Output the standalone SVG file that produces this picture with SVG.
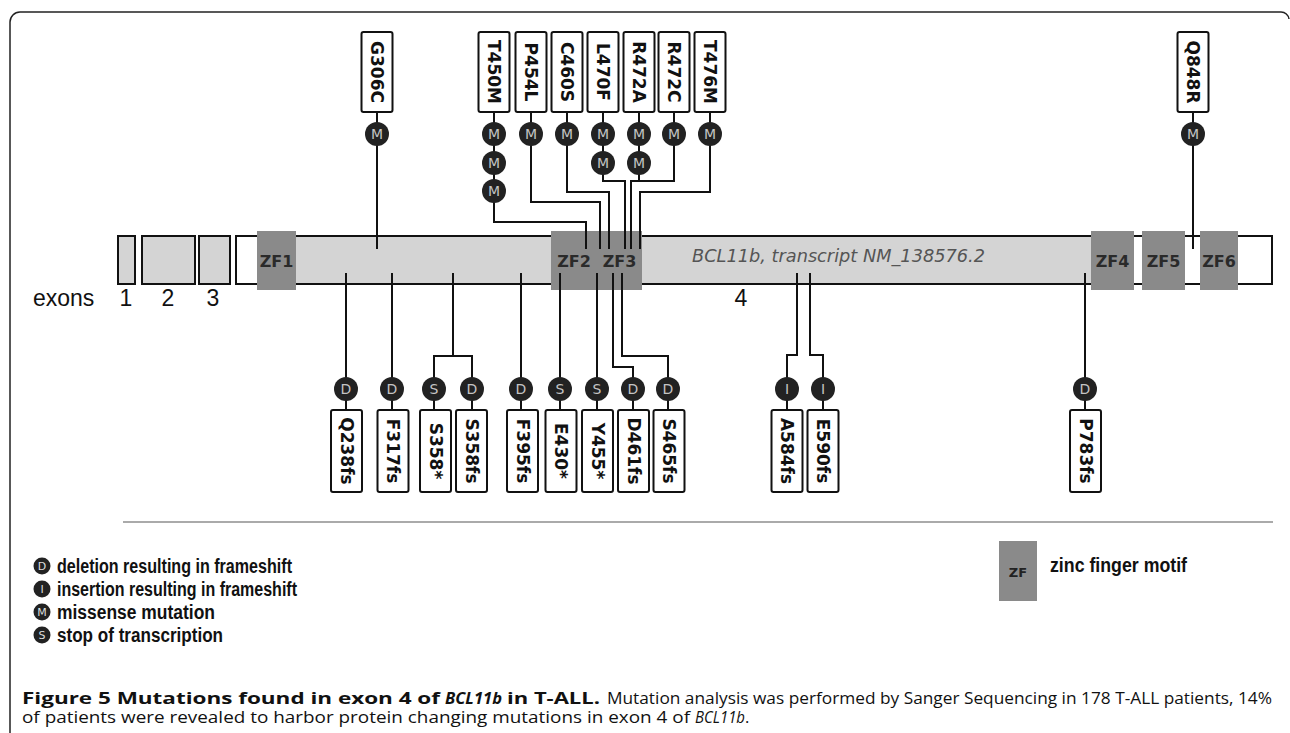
<svg xmlns="http://www.w3.org/2000/svg" width="1290" height="733" viewBox="0 0 1290 733">
<style>
.box{fill:#fff;stroke:#111;stroke-width:2}
.lbl{font-family:"DejaVu Sans",sans-serif;font-weight:bold;font-size:17px;fill:#111;text-anchor:middle;dominant-baseline:central}
.dot{fill:#222}
.dl{font-family:"DejaVu Sans",sans-serif;font-size:14px;fill:#c4c4c4;text-anchor:middle;dominant-baseline:central}
.con{fill:none;stroke:#111;stroke-width:2}
.ex{fill:#d4d4d4;stroke:#111;stroke-width:2}
.zf{fill:#8a8a8a}
.zft{font-family:"DejaVu Sans",sans-serif;font-weight:bold;font-size:16px;fill:#2a2a2a;text-anchor:middle;dominant-baseline:central}
.num{font-family:"Liberation Sans",Arial,sans-serif;font-size:23px;fill:#111}
.leg{font-family:"Liberation Sans",Arial,sans-serif;font-size:20px;font-weight:bold;fill:#111}
.ldot{fill:#222}
.ldl{font-family:"DejaVu Sans",sans-serif;font-size:11px;fill:#ddd;text-anchor:middle;dominant-baseline:central}
.cap{font-family:"Open Sans",sans-serif;font-size:16.5px;fill:#111}
.b{font-weight:bold}
.i{font-style:italic}
</style>
<path d="M10,733 V22 A10,10 0 0 1 20,12 H1281 A8,8 0 0 1 1289,19" fill="none" stroke="#222" stroke-width="1.5"/>

<g id="exons">
<g id="exon1"><rect class="ex" x="118" y="236" width="17" height="48"/></g>
<g id="exon2"><rect class="ex" x="142" y="236" width="53" height="48"/></g>
<g id="exon3"><rect class="ex" x="199" y="236" width="31" height="48"/></g>
<g id="exon4">
<rect x="236" y="236" width="1036" height="48" fill="#fff"/>
<rect x="257" y="236" width="843" height="48" fill="#d4d4d4"/>
<rect x="236" y="236" width="1036" height="48" fill="none" stroke="#111" stroke-width="2"/>
<text x="692" y="262" font-family="DejaVu Sans, sans-serif" font-style="italic" font-size="17.5" fill="#555" textLength="293" lengthAdjust="spacingAndGlyphs">BCL11b, transcript NM_138576.2</text>
</g>
</g>

<g id="zf">
<g id="ZF1"><rect class="zf" x="257" y="231" width="39" height="59"/><text class="zft" x="276.5" y="261">ZF1</text></g>
<g id="ZF2"><rect class="zf" x="551" y="231" width="46" height="59"/><text class="zft" x="574" y="261">ZF2</text></g>
<g id="ZF3"><rect class="zf" x="597" y="231" width="45" height="59"/><text class="zft" x="619.5" y="261">ZF3</text></g>
<g id="ZF4"><rect class="zf" x="1091" y="231" width="43" height="59"/><text class="zft" x="1112.5" y="261">ZF4</text></g>
<g id="ZF5"><rect class="zf" x="1142" y="231" width="43" height="59"/><text class="zft" x="1163.5" y="261">ZF5</text></g>
<g id="ZF6"><rect class="zf" x="1200" y="231" width="38" height="59"/><text class="zft" x="1219" y="261">ZF6</text></g>
</g>

<g id="exon-labels">
<text class="num" x="33" y="306">exons</text>
<text class="num" x="126" y="306" text-anchor="middle">1</text>
<text class="num" x="168" y="306" text-anchor="middle">2</text>
<text class="num" x="213" y="306" text-anchor="middle">3</text>
<text class="num" x="741" y="306" text-anchor="middle">4</text>
</g>

<g id="connectors">
<path class="con" d="M377,112 V249"/>
<path class="con" d="M494,112 V222 H586 V249"/>
<path class="con" d="M531,112 V202 H600 V249"/>
<path class="con" d="M567,112 V192 H609 V249"/>
<path class="con" d="M603,112 V181 H625 V249"/>
<path class="con" d="M639,112 V181"/>
<path class="con" d="M674,112 V181 H631 V249"/>
<path class="con" d="M710,112 V192 H640 V249"/>
<path class="con" d="M1193,112 V249"/>
<path class="con" d="M346,273 V410"/>
<path class="con" d="M392,273 V410"/>
<path class="con" d="M453,273 V356 H434 V410"/>
<path class="con" d="M453,356 H472 V410"/>
<path class="con" d="M521,273 V410"/>
<path class="con" d="M560,273 V410"/>
<path class="con" d="M597,273 V410"/>
<path class="con" d="M613,273 V367 H633 V410"/>
<path class="con" d="M622,273 V356 H668 V410"/>
<path class="con" d="M797,273 V355 H787 V410"/>
<path class="con" d="M810,273 V355 H823 V410"/>
<path class="con" d="M1085,273 V410"/>
</g>

<g id="m-G306C"><rect class="box" x="361.5" y="32" width="31" height="80" rx="2"/><text class="lbl" x="377" y="72" transform="rotate(90 377 72)">G306C</text><circle class="dot" cx="377" cy="134" r="12"/><text class="dl" x="377" y="134">M</text></g>
<g id="m-T450M"><rect class="box" x="478.5" y="32" width="31" height="80" rx="2"/><text class="lbl" x="494" y="72" transform="rotate(90 494 72)">T450M</text><circle class="dot" cx="494" cy="134" r="12"/><text class="dl" x="494" y="134">M</text><circle class="dot" cx="494" cy="163" r="12"/><text class="dl" x="494" y="163">M</text><circle class="dot" cx="494" cy="191" r="12"/><text class="dl" x="494" y="191">M</text></g>
<g id="m-P454L"><rect class="box" x="515.5" y="32" width="31" height="80" rx="2"/><text class="lbl" x="531" y="72" transform="rotate(90 531 72)">P454L</text><circle class="dot" cx="531" cy="134" r="12"/><text class="dl" x="531" y="134">M</text></g>
<g id="m-C460S"><rect class="box" x="551.5" y="32" width="31" height="80" rx="2"/><text class="lbl" x="567" y="72" transform="rotate(90 567 72)">C460S</text><circle class="dot" cx="567" cy="134" r="12"/><text class="dl" x="567" y="134">M</text></g>
<g id="m-L470F"><rect class="box" x="587.5" y="32" width="31" height="80" rx="2"/><text class="lbl" x="603" y="72" transform="rotate(90 603 72)">L470F</text><circle class="dot" cx="603" cy="134" r="12"/><text class="dl" x="603" y="134">M</text><circle class="dot" cx="603" cy="163" r="12"/><text class="dl" x="603" y="163">M</text></g>
<g id="m-R472A"><rect class="box" x="623.5" y="32" width="31" height="80" rx="2"/><text class="lbl" x="639" y="72" transform="rotate(90 639 72)">R472A</text><circle class="dot" cx="639" cy="134" r="12"/><text class="dl" x="639" y="134">M</text><circle class="dot" cx="639" cy="163" r="12"/><text class="dl" x="639" y="163">M</text></g>
<g id="m-R472C"><rect class="box" x="658.5" y="32" width="31" height="80" rx="2"/><text class="lbl" x="674" y="72" transform="rotate(90 674 72)">R472C</text><circle class="dot" cx="674" cy="134" r="12"/><text class="dl" x="674" y="134">M</text></g>
<g id="m-T476M"><rect class="box" x="694.5" y="32" width="31" height="80" rx="2"/><text class="lbl" x="710" y="72" transform="rotate(90 710 72)">T476M</text><circle class="dot" cx="710" cy="134" r="12"/><text class="dl" x="710" y="134">M</text></g>
<g id="m-Q848R"><rect class="box" x="1177.5" y="32" width="31" height="80" rx="2"/><text class="lbl" x="1193" y="72" transform="rotate(90 1193 72)">Q848R</text><circle class="dot" cx="1193" cy="134" r="12"/><text class="dl" x="1193" y="134">M</text></g>

<g id="m-Q238fs"><circle class="dot" cx="346" cy="389" r="12"/><text class="dl" x="346" y="389">D</text><rect class="box" x="331" y="410" width="31" height="82" rx="2"/><text class="lbl" x="346.5" y="451" transform="rotate(90 346.5 451)">Q238fs</text></g>
<g id="m-F317fs"><circle class="dot" cx="392" cy="389" r="12"/><text class="dl" x="392" y="389">D</text><rect class="box" x="377.5" y="410" width="31" height="82" rx="2"/><text class="lbl" x="393" y="451" transform="rotate(90 393 451)">F317fs</text></g>
<g id="m-S358stop"><circle class="dot" cx="434" cy="389" r="12"/><text class="dl" x="434" y="389">S</text><rect class="box" x="420" y="410" width="31" height="82" rx="2"/><text class="lbl" x="435.5" y="451" transform="rotate(90 435.5 451)">S358*</text></g>
<g id="m-S358fs"><circle class="dot" cx="472" cy="389" r="12"/><text class="dl" x="472" y="389">D</text><rect class="box" x="456" y="410" width="31" height="82" rx="2"/><text class="lbl" x="471.5" y="451" transform="rotate(90 471.5 451)">S358fs</text></g>
<g id="m-F395fs"><circle class="dot" cx="521" cy="389" r="12"/><text class="dl" x="521" y="389">D</text><rect class="box" x="507" y="410" width="31" height="82" rx="2"/><text class="lbl" x="522.5" y="451" transform="rotate(90 522.5 451)">F395fs</text></g>
<g id="m-E430stop"><circle class="dot" cx="560" cy="389" r="12"/><text class="dl" x="560" y="389">S</text><rect class="box" x="545.5" y="410" width="31" height="82" rx="2"/><text class="lbl" x="561" y="451" transform="rotate(90 561 451)">E430*</text></g>
<g id="m-Y455stop"><circle class="dot" cx="597" cy="389" r="12"/><text class="dl" x="597" y="389">S</text><rect class="box" x="582" y="410" width="31" height="82" rx="2"/><text class="lbl" x="597.5" y="451" transform="rotate(90 597.5 451)">Y455*</text></g>
<g id="m-D461fs"><circle class="dot" cx="633" cy="389" r="12"/><text class="dl" x="633" y="389">D</text><rect class="box" x="618" y="410" width="31" height="82" rx="2"/><text class="lbl" x="633.5" y="451" transform="rotate(90 633.5 451)">D461fs</text></g>
<g id="m-S465fs"><circle class="dot" cx="668" cy="389" r="12"/><text class="dl" x="668" y="389">D</text><rect class="box" x="653.5" y="410" width="31" height="82" rx="2"/><text class="lbl" x="669" y="451" transform="rotate(90 669 451)">S465fs</text></g>
<g id="m-A584fs"><circle class="dot" cx="787" cy="389" r="12"/><text class="dl" x="787" y="389">I</text><rect class="box" x="771.5" y="410" width="31" height="82" rx="2"/><text class="lbl" x="787" y="451" transform="rotate(90 787 451)">A584fs</text></g>
<g id="m-E590fs"><circle class="dot" cx="823" cy="389" r="12"/><text class="dl" x="823" y="389">I</text><rect class="box" x="807.5" y="410" width="31" height="82" rx="2"/><text class="lbl" x="823" y="451" transform="rotate(90 823 451)">E590fs</text></g>
<g id="m-P783fs"><circle class="dot" cx="1085" cy="389" r="12"/><text class="dl" x="1085" y="389">D</text><rect class="box" x="1070" y="410" width="31" height="82" rx="2"/><text class="lbl" x="1085.5" y="451" transform="rotate(90 1085.5 451)">P783fs</text></g>

<line x1="123" y1="522" x2="1273" y2="522" stroke="#aaa" stroke-width="2"/>

<g id="legend">
<g id="leg-D"><circle class="ldot" cx="42" cy="566" r="8.5"/><text class="ldl" x="42" y="566">D</text><text class="leg" x="57" y="573" textLength="235" lengthAdjust="spacingAndGlyphs">deletion resulting in frameshift</text></g>
<g id="leg-I"><circle class="ldot" cx="42" cy="589" r="8.5"/><text class="ldl" x="42" y="589">I</text><text class="leg" x="57" y="596" textLength="240" lengthAdjust="spacingAndGlyphs">insertion resulting in frameshift</text></g>
<g id="leg-M"><circle class="ldot" cx="42" cy="612" r="8.5"/><text class="ldl" x="42" y="612">M</text><text class="leg" x="57" y="619" textLength="158" lengthAdjust="spacingAndGlyphs">missense mutation</text></g>
<g id="leg-S"><circle class="ldot" cx="42" cy="635" r="8.5"/><text class="ldl" x="42" y="635">S</text><text class="leg" x="57" y="642" textLength="166" lengthAdjust="spacingAndGlyphs">stop of transcription</text></g>
<g id="leg-ZF"><rect class="zf" x="999" y="541" width="38" height="60"/><text x="1018" y="572" font-family="DejaVu Sans, sans-serif" font-weight="bold" font-size="13" fill="#222" text-anchor="middle" dominant-baseline="central">ZF</text><text class="leg" x="1050" y="572" textLength="137" lengthAdjust="spacingAndGlyphs">zinc finger motif</text></g>
</g>

<g id="caption">
<text class="cap b" x="22" y="704" textLength="418" lengthAdjust="spacingAndGlyphs">Figure 5 Mutations found in exon 4 of</text>
<text class="cap b i" x="445" y="704" textLength="57" lengthAdjust="spacingAndGlyphs">BCL11b</text>
<text class="cap b" x="507" y="704" textLength="93" lengthAdjust="spacingAndGlyphs">in T-ALL.</text>
<text class="cap" x="607" y="704" textLength="665" lengthAdjust="spacingAndGlyphs">Mutation analysis was performed by Sanger Sequencing in 178 T-ALL patients, 14%</text>
<text class="cap" x="22" y="723" textLength="668" lengthAdjust="spacingAndGlyphs">of patients were revealed to harbor protein changing mutations in exon 4 of</text>
<text class="cap i" x="695" y="723" textLength="50" lengthAdjust="spacingAndGlyphs">BCL11b</text>
<text class="cap" x="745" y="723">.</text>
</g>
</svg>
